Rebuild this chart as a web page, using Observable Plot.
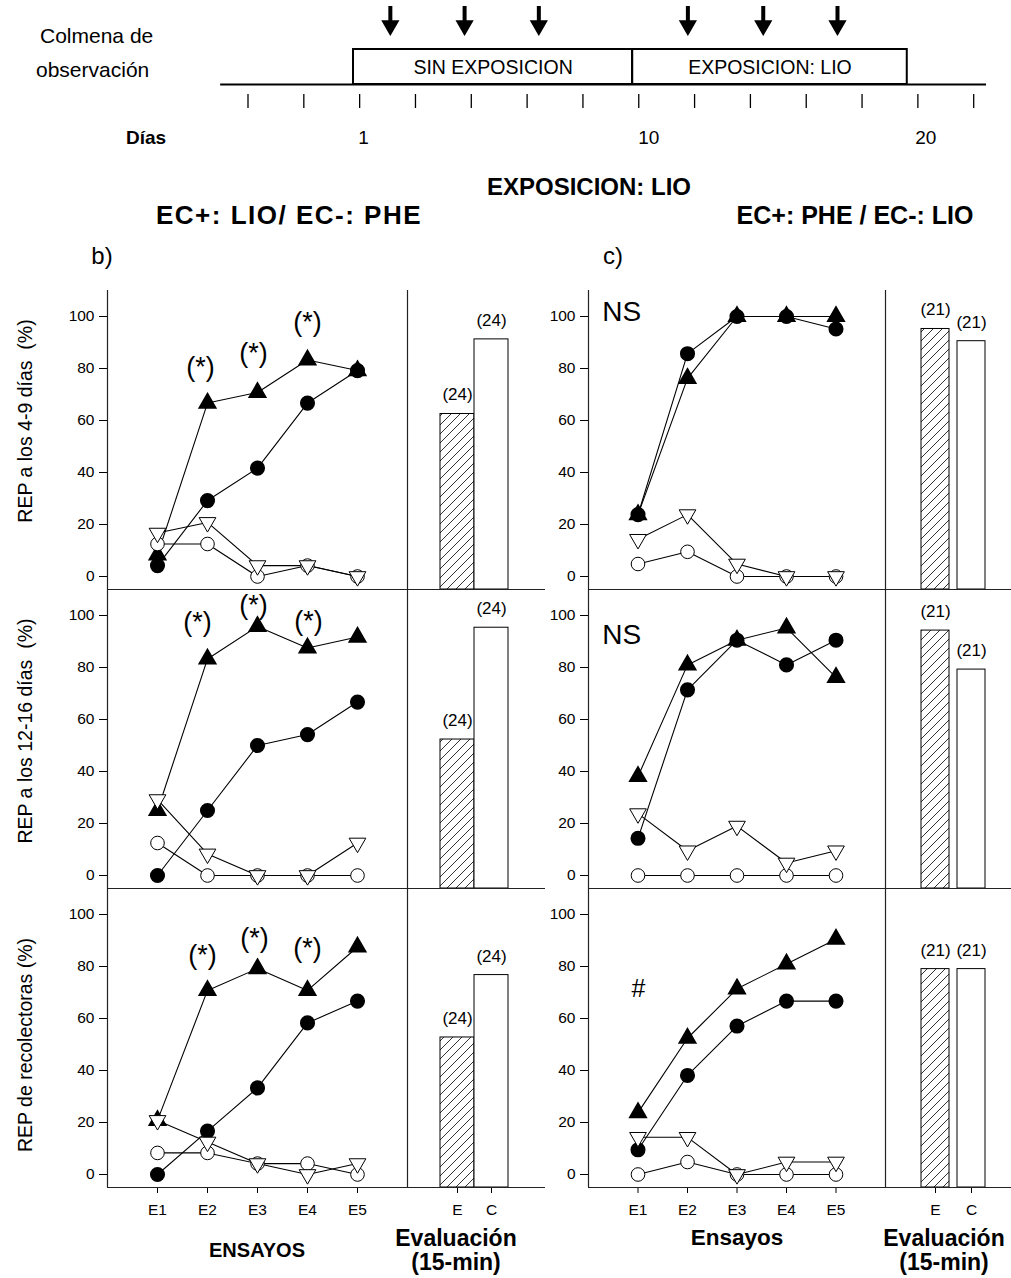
<!DOCTYPE html>
<html><head><meta charset="utf-8">
<script src="https://cdn.jsdelivr.net/npm/d3@7"></script>
<script src="https://cdn.jsdelivr.net/npm/@observablehq/plot@0.6"></script>
<style>
body{margin:0;background:#fff;}
#root{position:relative;width:1011px;height:1278px;overflow:hidden;font-family:"Liberation Sans",Arial,sans-serif;color:#000;}
.abs{position:absolute;white-space:pre;line-height:1;}
</style></head>
<body>
<svg width="0" height="0" style="position:absolute">
  <defs>
    <pattern id="hatch" patternUnits="userSpaceOnUse" width="9" height="9">
      <rect width="9" height="9" fill="white"/>
      <path d="M-2,2 L2,-2 M0,9 L9,0 M7,11 L11,7" stroke="black" stroke-width="0.8"/>
    </pattern>
  </defs>
</svg>
<div id="root"></div>
<script>
// ---------------- DATA ----------------
const trialNames = ["E1", "E2", "E3", "E4", "E5"];
const trialIndex = [1, 2, 3, 4, 5];
const yTicks = [0, 20, 40, 60, 80, 100];

// Panel b (EC+: LIO / EC-: PHE)
const b1_triUp   = [8.3, 66.7, 70.8, 83.3, 79.2];
const b1_circ    = [4.2, 29.2, 41.7, 66.7, 79.2];
const b1_triDown = [16.7, 20.8, 4.2, 4.2, 0];
const b1_open    = [12.5, 12.5, 0, 4.2, 0];

const b2_triUp   = [25, 83.3, 95.8, 87.5, 91.7];
const b2_circ    = [0, 25, 50, 54.2, 66.7];
const b2_triDown = [29.2, 8.3, 0, 0, 12.5];
const b2_open    = [12.5, 0, 0, 0, 0];

const b3_triUp   = [20.8, 70.8, 79.2, 70.8, 87.5];
const b3_circ    = [0, 16.7, 33.3, 58.3, 66.7];
const b3_triDown = [20.8, 12.5, 4.2, 0, 4.2];
const b3_open    = [8.3, 8.3, 4.2, 4.2, 0];

// Panel c (EC+: PHE / EC-: LIO)
const c1_triUp   = [23.8, 76.2, 100, 100, 100];
const c1_circ    = [23.8, 85.7, 100, 100, 95.2];
const c1_triDown = [14.3, 23.8, 4.8, 0, 0];
const c1_open    = [4.8, 9.5, 0, 0, 0];

const c2_triUp   = [38.1, 81, 90.5, 95.2, 76.2];
const c2_circ    = [14.3, 71.4, 90.5, 81, 90.5];
const c2_triDown = [23.8, 9.5, 19, 4.8, 9.5];
const c2_open    = [0, 0, 0, 0, 0];

const c3_triUp   = [23.8, 52.4, 71.4, 81, 90.5];
const c3_circ    = [9.5, 38.1, 57.1, 66.7, 66.7];
const c3_triDown = [14.3, 14.3, 0, 4.8, 4.8];
const c3_open    = [0, 4.8, 0, 0, 0];

// Evaluation bars (E = hatched, C = open)
const barGroups = ["E", "C"];
const barB1 = [62.5, 91.2];
const barB2 = [52.3, 95.3];
const barB3 = [52.7, 76.7];
const barC1 = [95.2, 90.5];
const barC2 = [94.2, 79.2];
const barC3 = [79, 79];
const nB = ["(24)", "(24)"];
const nC = ["(21)", "(21)"];

// Significance marks (x in trial units, y in %)
const starLabel = "(*)";
const starB1x = [1.86, 2.92, 4.0], starB1y = [80.6, 86, 97.7];
const starB2x = [1.8, 2.92, 4.02], starB2y = [97.3, 104, 97.7];
const starB3x = [1.9, 2.94, 4.0],  starB3y = [84.2, 90.8, 86.9];
const noteC1 = {label: "NS", x: 0.67, y: 101.7};
const noteC2 = {label: "NS", x: 0.67, y: 92.3};
const noteC3 = {label: "#",  x: 1.01, y: 71.5};

// Timeline (x in tick units)
const tlTicks = [1, 2, 3, 4, 5, 6, 7, 8, 9, 10, 11, 12, 13, 14];
const tlArrows = [3.55, 4.88, 6.21, 8.88, 10.23, 11.56];
const phaseNames = ["SIN EXPOSICION", "EXPOSICION: LIO"];
const phaseStart = [2.89, 7.89];
const phaseEnd = [7.89, 12.81];
const dayLabels = ["1", "10", "20"];
const dayPos = [3.07, 8.18, 13.14];
const tlLineExtent = [0.51, 14.23];

// ---------------- LAYOUT ----------------
const FONT = "Liberation Sans, Arial, sans-serif";
const root = document.getElementById("root");
const rowTop = [290, 589, 888];
const PH = 299;
const baseStyle = {background: "transparent", maxWidth: "none", overflow: "visible", fontFamily: FONT, fontSize: "15.5px", color: "black"};

function place(node, left, top) {
  const d = document.createElement("div");
  d.className = "abs";
  d.style.left = left + "px";
  d.style.top = top + "px";
  d.appendChild(node);
  root.appendChild(d);
}
function txt(s, x, y, {size = 16, weight = "normal", anchor = "middle", rotate = 0, spacing = 0} = {}) {
  const d = document.createElement("div");
  d.className = "abs";
  d.textContent = s;
  d.style.left = x + "px";
  d.style.top = y + "px";
  d.style.fontSize = size + "px";
  d.style.fontWeight = weight;
  if (spacing) d.style.letterSpacing = spacing + "px";
  const tx = anchor === "middle" ? "-50%" : anchor === "end" ? "-100%" : "0";
  d.style.transform = `translate(${tx},-50%)` + (rotate ? ` rotate(${rotate}deg)` : "");
  root.appendChild(d);
}

const triangleDown = {
  draw(context, size) {
    const y = Math.sqrt(size / (3 * Math.sqrt(3)));
    context.moveTo(0, 2 * y);
    context.lineTo(-Math.sqrt(3) * y, -y);
    context.lineTo(Math.sqrt(3) * y, -y);
    context.closePath();
  }
};

// ---------------- TIMELINE ----------------
const TL = {arrowTop: 6, arrowShaftEnd: 21, arrowHead: 25, boxTop: 49, boxBottom: 84, boxText: 67, tickTop: 94, tickBottom: 108, label: 137};
const phases = phaseNames.map((name, i) => ({name, start: phaseStart[i], end: phaseEnd[i]}));
const days = dayLabels.map((label, i) => ({label, t: dayPos[i]}));
place(Plot.plot({
  width: 1011, height: 150,
  marginLeft: 247.5, marginRight: 37.8, marginTop: 0, marginBottom: 0,
  style: baseStyle,
  x: {domain: [1, 14], axis: null},
  y: {domain: [0, 150], range: [0, 150], axis: null},
  marks: [
    Plot.ruleX(tlArrows, {y1: TL.arrowTop, y2: TL.arrowShaftEnd, stroke: "black", strokeWidth: 4}),
    Plot.dot(tlArrows, {x: d => d, y: TL.arrowHead, symbol: triangleDown, r: 5.8, fill: "black", stroke: "black"}),
    Plot.ruleY([TL.boxBottom], {x1: tlLineExtent[0], x2: tlLineExtent[1], stroke: "black", strokeWidth: 2}),
    Plot.rect(phases, {x1: "start", x2: "end", y1: TL.boxTop, y2: TL.boxBottom, fill: "none", stroke: "black", strokeWidth: 2}),
    Plot.text(phases, {x: d => (d.start + d.end) / 2, y: TL.boxText, text: "name", fontSize: 19.5}),
    Plot.ruleX(tlTicks, {y1: TL.tickTop, y2: TL.tickBottom, stroke: "black", strokeWidth: 1.3}),
    Plot.text(days, {x: "t", y: TL.label, text: "label", fontSize: 19})
  ]
}), 0, 0);

txt("Colmena de", 40, 35, {size: 21, anchor: "start"});
txt("observación", 36, 69, {size: 21, anchor: "start"});
txt("Días", 146, 137, {size: 19, weight: "bold"});

// ---------------- TITLES ----------------
txt("EXPOSICION: LIO", 589, 187, {size: 24, weight: "bold"});
txt("EC+: LIO/ EC-: PHE", 289, 215, {size: 26, weight: "bold", spacing: 1.5});
txt("EC+: PHE / EC-: LIO", 855, 215, {size: 25, weight: "bold"});
txt("b)", 102, 256, {size: 24});
txt("c)", 613, 256, {size: 24});

txt("REP a los 4-9 días  (%)", 26, 421, {size: 19.5, rotate: -90});
txt("REP a los 12-16 días  (%)", 26, 731, {size: 19.5, rotate: -90});
txt("REP de recolectoras (%)", 26, 1045, {size: 19.5, rotate: -90});

txt("ENSAYOS", 257, 1250, {size: 20, weight: "bold"});
txt("Ensayos", 737, 1238, {size: 22.5, weight: "bold"});
txt("Evaluación", 456, 1238, {size: 23, weight: "bold"});
txt("(15-min)", 456, 1262, {size: 23, weight: "bold"});
txt("Evaluación", 944, 1238, {size: 23, weight: "bold"});
txt("(15-min)", 944, 1262, {size: 23, weight: "bold"});

// ---------------- PANELS ----------------
function seriesRows(tu, ci, td, oc) {
  const rows = [];
  const add = (arr, s) => arr.forEach((v, i) => rows.push({t: trialIndex[i], v, s}));
  add(ci, "circ"); add(tu, "triUp"); add(oc, "open"); add(td, "triDown");
  return rows;
}

function linePanel(r, side, tu, ci, td, oc, stars, notes) {
  const isB = side === "b";
  const mt = 12, mb = r === 2 ? 40 : 2;
  const ml = isB ? 107 : 60, pw = isB ? 300 : 297, mr = 2;
  const data = seriesRows(tu, ci, td, oc);
  const plot = Plot.plot({
    width: ml + pw + mr, height: mt + PH + mb,
    marginLeft: ml, marginRight: mr, marginTop: mt, marginBottom: mb,
    style: baseStyle,
    x: {domain: [0, 6], ticks: trialIndex, tickFormat: i => trialNames[i - 1], tickSize: 6, tickPadding: 10, label: null, axis: r === 2 ? "bottom" : null},
    y: {domain: [-5, 110], ticks: yTicks, tickSize: 8, tickPadding: 5, label: null},
    marks: [
      Plot.ruleX([0, 6], {y1: -5, y2: 110, stroke: "#222", strokeWidth: 1.2}),
      Plot.ruleY([-5], {stroke: "#222", strokeWidth: 1.2}),
      Plot.line(data, {x: "t", y: "v", z: "s", stroke: "black", strokeWidth: 1.1}),
      Plot.dot(data.filter(d => d.s === "circ"), {x: "t", y: "v", r: 6.8, fill: "black", stroke: "black"}),
      Plot.dot(data.filter(d => d.s === "triUp"), {x: "t", y: "v", symbol: "triangle", r: 6.2, fill: "black", stroke: "black"}),
      Plot.dot(data.filter(d => d.s === "open"), {x: "t", y: "v", r: 6.8, fill: "white", stroke: "black", strokeWidth: 1}),
      Plot.dot(data.filter(d => d.s === "triDown"), {x: "t", y: "v", symbol: triangleDown, r: 6.2, fill: "white", stroke: "black", strokeWidth: 1}),
      Plot.text(stars, {x: "x", y: "y", text: "label", fontSize: 27}),
      Plot.text(notes, {x: "x", y: "y", text: "label", fontSize: d => d.label === "#" ? 25 : 28})
    ]
  });
  place(plot, isB ? 0 : 528, rowTop[r] - mt);
}

function barPanel(r, side, vals, ns) {
  const isB = side === "b";
  const mt = 12, mb = r === 2 ? 40 : 2;
  const w = isB ? 138 : 126;
  const data = barGroups.map((g, i) => ({g, v: vals[i], n: ns[i]}));
  const plot = Plot.plot({
    width: w, height: mt + PH + mb,
    marginLeft: 0, marginRight: 0, marginTop: mt, marginBottom: mb,
    style: baseStyle,
    x: {type: "band", domain: barGroups, paddingInner: isB ? 0 : 0.222, paddingOuter: isB ? 1.029 : 0.861, align: isB ? 0.47 : 0.58,
        axis: r === 2 ? "bottom" : null, tickSize: 6, tickPadding: 10, label: null},
    y: {domain: [-5, 110], axis: null},
    marks: [
      Plot.barY(data.filter(d => d.g === "E"), {x: "g", y1: -5, y2: "v", fill: "url(#hatch)", stroke: "black", strokeWidth: 1}),
      Plot.barY(data.filter(d => d.g === "C"), {x: "g", y1: -5, y2: "v", fill: "white", stroke: "black", strokeWidth: 1}),
      Plot.text(data, {x: "g", y: "v", text: "n", dy: -19, fontSize: 17}),
      Plot.ruleY([-5], {stroke: "#222", strokeWidth: 1.2})
    ]
  });
  place(plot, isB ? 407 : 885, rowTop[r] - mt);
}

const mkStars = (xs, ys) => xs.map((x, i) => ({x, y: ys[i], label: starLabel}));

linePanel(0, "b", b1_triUp, b1_circ, b1_triDown, b1_open, mkStars(starB1x, starB1y), []);
linePanel(1, "b", b2_triUp, b2_circ, b2_triDown, b2_open, mkStars(starB2x, starB2y), []);
linePanel(2, "b", b3_triUp, b3_circ, b3_triDown, b3_open, mkStars(starB3x, starB3y), []);
linePanel(0, "c", c1_triUp, c1_circ, c1_triDown, c1_open, [], [noteC1]);
linePanel(1, "c", c2_triUp, c2_circ, c2_triDown, c2_open, [], [noteC2]);
linePanel(2, "c", c3_triUp, c3_circ, c3_triDown, c3_open, [], [noteC3]);

barPanel(0, "b", barB1, nB);
barPanel(1, "b", barB2, nB);
barPanel(2, "b", barB3, nB);
barPanel(0, "c", barC1, nC);
barPanel(1, "c", barC2, nC);
barPanel(2, "c", barC3, nC);
</script>
</body></html>
